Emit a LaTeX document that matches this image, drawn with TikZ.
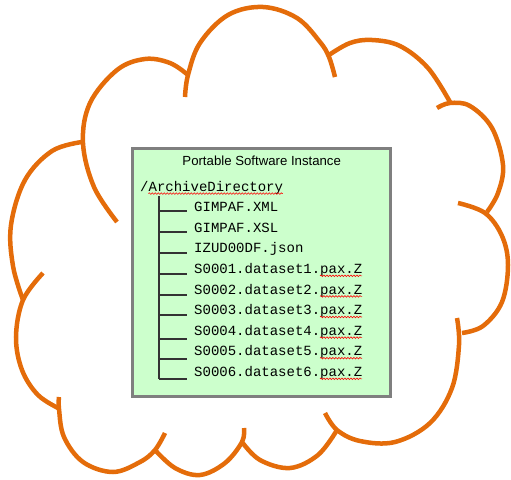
\documentclass[tikz,border=0pt]{standalone}
\usepackage{fontspec}
\setmainfont{Liberation Sans}
\setmonofont{Liberation Mono}
\usepackage{xcolor,tikz}
\usetikzlibrary{positioning,decorations.pathmorphing}
\tikzset{>=stealth}
\definecolor{cloudorange}{HTML}{E46C0A}
\definecolor{boxgreen}{HTML}{CCFFCC}
\definecolor{boxgray}{HTML}{7F7F7F}
\tikzset{
  cloudline/.style={draw=cloudorange,line width=4.5pt},
  instbox/.style={draw=boxgray,line width=3.8pt,fill=boxgreen,minimum width=258pt,minimum height=248pt},
  fname/.style={font=\fontsize{14}{14}\selectfont\ttfamily,inner sep=0pt,anchor=base west},
  branch/.style={line width=1.8pt,draw=black!80},
  spell/.style={draw=red,line width=0.6pt,decorate,decoration={snake,amplitude=0.8pt,segment length=3pt}}
}

\begin{document}
\begin{tikzpicture}[x=1pt,y=-1pt]
        \useasboundingbox (0,0) rectangle (511,479);
        %%%% cloud lobes
        \draw[cloudline] plot[smooth,tension=0.6] coordinates {(117,222) (94,187) (83,143) (90,103) (117,70) (145,59) (170,63) (188,75)};
        \draw[cloudline] plot[smooth,tension=0.6] coordinates {(185,97) (188,75) (200,43) (228,15) (263,7) (297,18) (320,42) (329,57) (335,77)};
        \draw[cloudline] plot[smooth,tension=0.6] coordinates {(329,55) (350,43) (372,40) (400,46) (428,68) (450,102)};
        \draw[cloudline] plot[smooth,tension=0.6] coordinates {(437,108) (450,103) (470,106) (492,128) (503,165) (498,193) (487,212)};
        \draw[cloudline] plot[smooth,tension=0.6] coordinates {(458,203) (485,213) (502,236) (508,265) (502,302) (483,326) (462,333)};
        \draw[cloudline] plot[smooth,tension=0.6] coordinates {(457,318) (459,345) (452,388) (430,423) (395,442) (360,441) (337,430) (325,413)};
        \draw[cloudline] plot[smooth,tension=0.6] coordinates {(242,442) (260,460) (290,468) (318,455) (337,430)};
        \draw[cloudline] plot[smooth,tension=0.6] coordinates {(155,450) (175,468) (200,475) (225,463) (242,442) (244,428)};
        \draw[cloudline] plot[smooth,tension=0.6] coordinates {(59,397) (59,409) (64,437) (83,462) (113,472) (140,462) (155,450) (165,433)};
        \draw[cloudline] plot[smooth,tension=0.6] coordinates {(43,273) (23,300) (16,337) (22,370) (38,395) (60,409)};
        \draw[cloudline] plot[smooth,tension=0.6] coordinates {(82,142) (52,151) (25,180) (11,225) (13,266) (23,300)};
        %%%% software instance box
        \node[instbox] (inst) at (261.5,272.5) {};
        \node[font=\fontsize{13.2}{13.2}\selectfont,inner sep=0pt,anchor=base] (title) at (261.7,165) {Portable Software Instance};
        \node[fname] (root) at (140,191) {/ArchiveDirectory};
        \draw[spell] ([xshift=8.4pt,yshift=-2.6pt]root.base west) -- ++(134.4,0);
        %%%% tree
        \coordinate (trunk) at (159.3,196);
        \foreach \fn/\yb/\yl [count=\i] in {GIMPAF.XML/211.6/211,GIMPAF.XSL/232.2/232.3,IZUD00DF.json/252.8/253.3,
            S0001.dataset1.pax.Z/273.4/274,S0002.dataset2.pax.Z/294/295,S0003.dataset3.pax.Z/314.6/315,
            S0004.dataset4.pax.Z/335.2/339.3,S0005.dataset5.pax.Z/355.8/359.3,S0006.dataset6.pax.Z/376.4/379.3}{
            \node[fname] (f\i) at (194,\yb) {\fn};
            \coordinate (b\i) at (159.3,\yl);
            \coordinate (e\i) at (187.3,\yl);
            \draw[branch] (b\i) -- (e\i);
        }
        \draw[branch] (trunk) -- (b9);
        \foreach \i in {4,...,9}
            \draw[spell] ([xshift=126pt,yshift=-2.4pt]f\i.base west) -- ++(42,0);
    \end{tikzpicture}
\end{document}
